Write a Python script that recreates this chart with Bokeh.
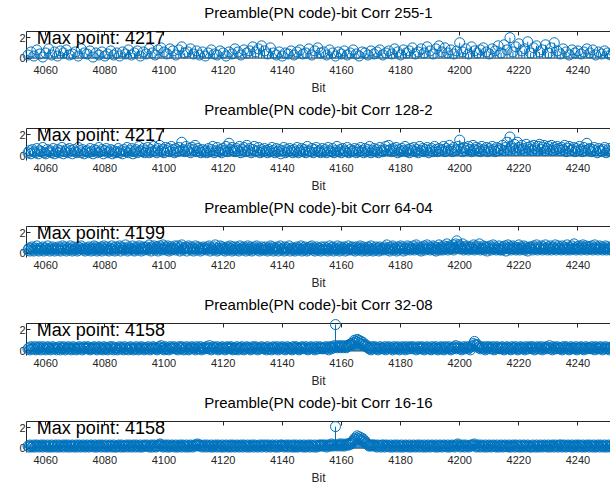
from bokeh.plotting import figure
from bokeh.models import ColumnDataSource, FixedTicker, LinearAxis, Span, Range1d
from bokeh.layouts import column
from bokeh.core.properties import value
from bokeh.embed import file_html
from bokeh.resources import INLINE

TITLES = [
    "Preamble(PN code)-bit Corr 255-1",
    "Preamble(PN code)-bit Corr 128-2",
    "Preamble(PN code)-bit Corr 64-04",
    "Preamble(PN code)-bit Corr 32-08",
    "Preamble(PN code)-bit Corr 16-16",
]
MAX_POINTS = [4217, 4217, 4199, 4158, 4158]
SAMPLES_PER_BIT = [1, 2, 3, 3, 3]
BIT_START = 4054
X_TICKS = [4060, 4080, 4100, 4120, 4140, 4160, 4180, 4200, 4220, 4240]
Y_TICKS = [0, 2]
X_LABEL = "Bit"

CORR_255_1 = [
    0.3,0.6,0.2,0.8,0.4,0.1,0.5,0.9,0.3,0.6,0.2,0.7,0.5,0.8,0.3,0.4,0.6,0.2,0.9,0.5,
    0.4,0.7,0.1,0.5,0.3,0.6,0.2,0.4,0.7,0.3,0.5,0.2,0.6,0.4,0.8,0.3,0.5,0.7,0.2,0.6,
    0.4,0.9,0.5,0.3,0.8,1.0,0.6,0.4,0.9,0.7,0.3,0.8,1.1,0.5,0.6,0.9,0.4,0.7,0.3,0.6,
    0.2,0.5,0.8,0.4,0.3,0.7,0.5,0.2,0.6,0.4,0.9,0.6,0.3,0.8,0.5,0.7,1.1,0.6,0.9,1.2,
    0.7,0.4,1.0,0.5,0.3,0.6,0.2,0.5,0.4,0.7,0.3,0.6,0.8,0.4,0.5,0.9,0.3,0.7,1.0,0.5,
    0.6,0.3,0.8,0.5,0.2,0.6,0.4,0.7,0.3,0.5,0.8,0.4,0.2,0.6,0.5,0.3,0.7,0.4,0.6,0.8,
    0.3,0.5,0.7,0.4,0.9,0.6,0.3,0.8,0.5,0.7,1.0,0.4,0.6,0.9,0.5,1.1,0.7,0.4,0.9,1.2,
    0.6,1.0,0.5,0.8,0.4,0.7,1.5,0.6,0.9,0.4,1.1,0.7,0.5,0.8,1.0,0.6,0.4,0.9,0.7,1.2,
    0.5,1.3,0.8,2.0,0.6,1.1,1.4,0.7,0.9,1.6,0.5,1.0,1.2,0.6,0.8,1.3,0.5,1.0,1.5,0.7,
    0.4,0.9,0.6,0.3,0.8,0.5,0.7,0.4,0.6,0.9,0.5,0.8,0.3,0.6,0.4,0.7,0.5,0.3,0.6,0.4,
]

CORR_128_2 = [
    0.3,0.5,0.2,0.6,0.4,0.3,0.7,0.2,0.5,0.4,0.8,0.3,0.2,0.6,0.4,0.5,0.3,0.7,0.2,0.4,
    0.6,0.3,0.5,0.8,0.2,0.4,0.6,0.3,0.7,0.5,0.2,0.6,0.4,0.3,0.8,0.5,0.3,0.6,0.2,0.4,
    0.5,0.3,0.7,0.4,0.2,0.6,0.5,0.3,0.8,0.4,0.6,0.2,0.5,0.7,0.3,0.4,0.6,0.2,0.5,0.3,
    0.4,0.7,0.3,0.5,0.2,0.6,0.4,0.8,0.3,0.5,0.7,0.2,0.4,0.6,0.3,0.9,0.5,0.4,0.7,0.3,
    0.5,0.8,0.3,0.6,0.4,0.9,0.5,0.3,0.7,1.0,0.4,0.6,0.3,0.8,0.5,0.7,0.4,0.9,0.6,0.3,
    0.7,0.4,0.8,0.5,1.3,0.6,0.4,0.9,0.5,0.7,0.3,0.8,0.6,1.0,0.4,0.7,0.5,0.3,0.6,0.4,
    0.5,0.3,0.7,0.4,0.6,0.9,0.3,0.5,0.8,0.4,0.6,0.3,0.7,0.5,0.9,0.4,1.2,0.6,0.8,0.5,
    0.4,0.7,0.5,0.9,0.3,0.6,0.8,0.4,1.0,0.5,0.7,0.3,0.6,0.9,0.4,0.5,0.8,0.3,0.6,0.4,
    0.7,0.5,0.3,0.6,0.4,0.8,0.5,0.3,0.7,0.4,0.6,0.2,0.5,0.8,0.3,0.6,0.4,0.7,0.5,0.3,
    0.6,0.4,0.8,0.3,0.5,0.7,0.4,0.6,0.3,0.9,0.5,0.4,0.7,0.3,0.6,0.8,0.4,0.5,0.3,0.7,
    0.4,0.6,0.3,0.8,0.5,0.4,0.7,0.3,0.5,0.9,0.4,0.6,0.3,0.7,0.5,0.4,0.8,0.3,0.6,0.4,
    0.5,0.7,0.3,0.6,0.4,0.8,0.5,0.3,0.7,0.4,0.6,0.9,0.3,0.5,0.7,0.4,0.6,0.3,0.8,0.5,
    0.4,0.6,0.9,0.5,1.0,0.6,0.4,0.7,0.5,0.8,0.3,0.6,0.4,0.7,0.5,0.9,0.4,0.6,0.3,0.7,
    0.5,0.8,0.4,0.6,0.3,0.9,0.5,0.7,0.4,0.6,0.8,0.3,0.5,0.7,0.4,0.9,0.6,0.4,0.7,0.5,
    0.6,0.9,0.4,0.7,0.5,1.0,0.6,0.4,0.8,0.5,0.6,0.9,1.5,0.7,0.4,0.8,0.5,0.7,0.9,0.6,
    0.4,1.0,0.6,0.8,0.5,0.7,0.4,0.9,0.6,0.5,0.8,0.4,0.7,0.5,0.9,0.6,0.4,0.8,0.5,0.7,
    0.6,1.0,0.5,0.8,1.3,0.6,1.8,0.9,0.7,1.1,0.5,1.3,0.8,0.6,1.0,0.7,0.5,1.1,0.8,0.6,
    0.9,0.5,1.0,0.7,0.5,0.9,1.1,0.6,0.8,1.0,0.5,0.7,0.9,0.6,1.0,0.5,0.8,0.6,0.9,0.7,
    0.5,0.8,0.6,1.0,0.4,0.7,0.9,0.5,0.6,0.8,0.4,0.7,0.5,0.9,0.6,0.4,0.8,0.5,1.2,0.6,
    0.7,0.4,0.6,0.8,0.5,0.3,0.7,0.5,0.4,0.6,0.8,0.3,0.5,0.7,0.4,0.6,0.3,0.5,0.4,0.6,
]

CORR_64_04 = [
    0.3,0.5,0.2,0.4,0.6,0.3,0.2,0.5,0.4,0.7,0.3,0.2,0.5,0.4,0.3,0.6,0.2,0.4,0.5,0.3,0.7,0.4,0.2,0.5,0.3,0.6,0.4,0.2,0.5,0.3,
    0.4,0.6,0.3,0.2,0.5,0.7,0.4,0.3,0.6,0.2,0.4,0.5,0.3,0.7,0.4,0.2,0.6,0.3,0.5,0.4,0.2,0.6,0.3,0.5,0.7,0.4,0.3,0.5,0.2,0.4,
    0.5,0.3,0.6,0.4,0.2,0.5,0.3,0.7,0.4,0.6,0.2,0.5,0.3,0.4,0.6,0.2,0.5,0.7,0.3,0.4,0.6,0.3,0.2,0.5,0.4,0.7,0.3,0.5,0.2,0.6,
    0.3,0.5,0.4,0.7,0.2,0.6,0.4,0.3,0.5,0.8,0.4,0.2,0.6,0.3,0.5,0.4,0.7,0.3,0.2,0.5,0.6,0.4,0.3,0.7,0.5,0.2,0.4,0.6,0.3,0.5,
    0.6,0.4,0.3,0.8,0.5,0.2,0.6,0.4,0.7,0.3,0.5,0.6,0.2,0.4,0.7,0.5,0.3,0.8,0.4,0.6,0.3,0.5,0.7,0.2,0.4,0.6,0.3,0.5,0.4,0.7,
    0.3,0.5,0.7,0.4,0.2,0.6,0.8,0.3,0.5,0.4,0.6,0.2,0.5,0.7,0.4,0.3,0.6,0.5,0.2,0.4,0.7,0.3,0.5,0.6,0.4,0.2,0.5,0.3,0.6,0.4,
    0.5,0.3,0.6,0.4,0.7,0.2,0.5,0.4,0.3,0.6,0.8,0.4,0.2,0.5,0.3,0.7,0.4,0.6,0.3,0.5,0.2,0.4,0.6,0.3,0.5,0.7,0.4,0.2,0.6,0.3,
    0.4,0.6,0.3,0.5,0.2,0.7,0.4,0.5,0.3,0.6,0.4,0.2,0.5,0.7,0.3,0.4,0.6,0.2,0.5,0.3,0.6,0.4,0.7,0.3,0.5,0.2,0.4,0.6,0.3,0.5,
    0.3,0.6,0.4,0.2,0.5,0.3,0.7,0.4,0.6,0.2,0.5,0.3,0.4,0.6,0.2,0.5,0.7,0.3,0.4,0.5,0.2,0.6,0.3,0.5,0.4,0.7,0.2,0.4,0.5,0.3,
    0.5,0.2,0.4,0.6,0.3,0.5,0.4,0.7,0.2,0.5,0.3,0.6,0.4,0.2,0.5,0.3,0.6,0.4,0.7,0.3,0.5,0.2,0.4,0.6,0.3,0.5,0.4,0.2,0.6,0.3,
    0.4,0.6,0.3,0.5,0.2,0.4,0.7,0.3,0.5,0.6,0.2,0.4,0.5,0.3,0.7,0.4,0.2,0.6,0.3,0.5,0.4,0.6,0.2,0.5,0.3,0.7,0.4,0.3,0.5,0.6,
    0.3,0.5,0.2,0.6,0.4,0.3,0.5,0.7,0.4,0.2,0.6,0.3,0.5,0.4,0.2,0.6,0.5,0.3,0.7,0.4,0.2,0.5,0.3,0.6,0.4,0.5,0.2,0.6,0.3,0.4,
    0.5,0.3,0.6,0.4,0.8,0.3,0.5,0.2,0.6,0.4,0.7,0.3,0.5,0.4,0.2,0.6,0.3,0.5,0.7,0.4,0.6,0.2,0.4,0.5,0.3,0.7,0.4,0.6,0.3,0.5,
    0.4,0.7,0.3,0.5,0.8,0.4,0.6,0.3,0.5,0.2,0.6,0.4,0.7,0.3,0.5,0.8,0.4,0.6,0.3,0.5,0.4,0.7,0.3,0.6,0.2,0.5,0.4,0.8,0.3,0.6,
    0.5,0.3,0.7,0.4,0.6,0.9,0.3,0.5,0.7,0.4,0.6,0.8,0.3,0.5,0.9,1.2,0.6,0.8,0.4,0.7,0.5,0.9,0.3,0.6,0.4,0.7,0.5,0.3,0.6,0.4,
    0.6,0.4,0.8,0.3,0.5,0.7,0.4,0.6,0.9,0.3,0.5,0.4,0.7,0.3,0.6,0.5,0.2,0.6,0.4,0.7,0.3,0.5,0.8,0.4,0.6,0.3,0.5,0.4,0.7,0.3,
    0.5,0.3,0.6,0.4,0.7,0.2,0.5,0.8,0.4,0.6,0.3,0.5,0.7,0.4,0.6,0.3,0.5,0.4,0.8,0.3,0.6,0.4,0.5,0.7,0.3,0.6,0.4,0.2,0.5,0.6,
    0.4,0.6,0.3,0.7,0.5,0.4,0.8,0.3,0.6,0.4,0.5,0.7,0.3,0.6,0.4,0.8,0.5,0.3,0.6,0.4,0.7,0.3,0.5,0.6,0.4,0.8,0.3,0.5,0.7,0.4,
    0.5,0.3,0.7,0.4,0.6,0.5,0.3,0.8,0.4,0.6,0.3,0.5,0.7,0.4,0.9,0.5,0.3,0.6,0.4,0.7,0.5,0.3,0.6,0.8,0.4,0.5,0.7,0.3,0.6,0.4,
    0.6,0.4,0.7,0.3,0.5,0.8,0.4,0.6,0.3,0.5,0.7,0.4,0.6,0.3,0.5,0.4,0.7,0.3,0.6,0.4,0.5,0.3,0.6,0.4,0.7,0.3,0.5,0.4,0.6,0.3,
]

CORR_32_08 = [
    0.2,0.3,0.1,0.4,0.2,0.3,0.2,0.4,0.1,0.3,0.2,0.4,0.3,0.1,0.2,0.4,0.3,0.2,0.1,0.3,0.4,0.2,0.3,0.1,0.2,0.4,0.3,0.2,0.3,0.1,
    0.3,0.2,0.4,0.1,0.3,0.2,0.4,0.3,0.1,0.2,0.3,0.4,0.2,0.3,0.1,0.2,0.4,0.3,0.2,0.1,0.3,0.2,0.4,0.3,0.2,0.1,0.3,0.4,0.2,0.3,
    0.2,0.4,0.3,0.1,0.2,0.3,0.2,0.4,0.3,0.2,0.1,0.3,0.4,0.2,0.3,0.2,0.1,0.4,0.3,0.2,0.3,0.1,0.2,0.4,0.3,0.2,0.4,0.1,0.3,0.2,
    0.3,0.1,0.2,0.4,0.3,0.2,0.3,0.1,0.4,0.2,0.3,0.2,0.1,0.3,0.4,0.2,0.3,0.1,0.2,0.3,0.4,0.2,0.1,0.3,0.2,0.4,0.3,0.2,0.1,0.3,
    0.2,0.3,0.4,0.2,0.1,0.3,0.2,0.4,0.3,0.2,0.3,0.1,0.2,0.4,0.3,0.5,0.2,0.3,0.1,0.4,0.2,0.3,0.2,0.1,0.4,0.3,0.2,0.3,0.4,0.2,
    0.3,0.2,0.1,0.4,0.3,0.2,0.4,0.3,0.1,0.2,0.3,0.4,0.2,0.1,0.3,0.2,0.4,0.3,0.2,0.3,0.1,0.4,0.2,0.3,0.2,0.4,0.1,0.3,0.2,0.3,
    0.2,0.4,0.3,0.2,0.5,0.3,0.1,0.2,0.4,0.3,0.2,0.3,0.4,0.1,0.2,0.3,0.2,0.4,0.3,0.2,0.1,0.3,0.4,0.2,0.3,0.2,0.4,0.3,0.1,0.2,
    0.3,0.2,0.4,0.1,0.3,0.2,0.3,0.4,0.2,0.1,0.3,0.2,0.4,0.3,0.2,0.3,0.1,0.2,0.4,0.3,0.2,0.4,0.3,0.1,0.2,0.3,0.2,0.4,0.3,0.2,
    0.2,0.3,0.1,0.4,0.2,0.3,0.2,0.1,0.3,0.4,0.2,0.3,0.2,0.4,0.1,0.3,0.2,0.3,0.4,0.2,0.3,0.1,0.2,0.4,0.3,0.2,0.3,0.2,0.1,0.4,
    0.3,0.2,0.4,0.3,0.2,0.1,0.3,0.2,0.4,0.3,0.2,0.3,0.4,0.2,0.1,0.3,0.2,0.4,0.3,0.2,0.3,0.1,0.4,0.2,0.3,0.2,0.4,0.3,0.2,0.3,
    0.2,0.3,0.4,0.2,0.3,0.1,0.4,0.3,0.2,0.4,0.3,0.5,2.5,0.4,0.3,0.5,0.4,0.3,0.5,0.4,0.3,0.4,0.5,0.3,0.4,0.5,0.6,0.5,0.7,0.6,
    0.8,1.0,0.7,0.9,1.1,0.8,1.0,0.7,0.9,0.6,0.8,0.5,0.6,0.4,0.5,0.3,0.2,0.3,0.1,0.4,0.2,0.3,0.4,0.2,0.3,0.1,0.2,0.4,0.3,0.2,
    0.3,0.2,0.4,0.1,0.3,0.2,0.4,0.3,0.2,0.3,0.1,0.4,0.2,0.3,0.2,0.4,0.3,0.1,0.2,0.3,0.4,0.2,0.3,0.1,0.4,0.2,0.3,0.2,0.4,0.3,
    0.2,0.4,0.3,0.2,0.1,0.3,0.4,0.2,0.3,0.2,0.4,0.3,0.1,0.2,0.3,0.4,0.2,0.3,0.2,0.1,0.4,0.3,0.2,0.3,0.4,0.2,0.1,0.3,0.2,0.4,
    0.3,0.2,0.1,0.4,0.3,0.2,0.3,0.4,0.2,0.1,0.3,0.2,0.4,0.3,0.5,0.2,0.3,0.4,0.2,0.3,0.1,0.2,0.4,0.3,0.2,0.3,0.4,0.2,0.3,0.1,
    0.4,0.5,0.7,0.9,0.6,0.5,0.6,0.3,0.4,0.2,0.3,0.4,0.2,0.3,0.1,0.4,0.2,0.3,0.4,0.2,0.3,0.2,0.4,0.1,0.3,0.2,0.4,0.3,0.2,0.3,
    0.2,0.4,0.3,0.1,0.2,0.3,0.4,0.2,0.3,0.2,0.1,0.4,0.3,0.2,0.3,0.4,0.2,0.1,0.3,0.2,0.4,0.3,0.2,0.3,0.1,0.4,0.2,0.3,0.2,0.4,
    0.3,0.2,0.4,0.3,0.1,0.2,0.3,0.4,0.2,0.3,0.2,0.4,0.1,0.3,0.2,0.3,0.4,0.2,0.3,0.5,0.2,0.3,0.1,0.4,0.2,0.3,0.2,0.4,0.3,0.2,
    0.2,0.3,0.1,0.4,0.2,0.3,0.4,0.2,0.3,0.1,0.2,0.4,0.3,0.2,0.3,0.2,0.4,0.1,0.3,0.2,0.3,0.4,0.2,0.3,0.1,0.2,0.4,0.3,0.2,0.3,
    0.3,0.2,0.4,0.2,0.3,0.1,0.4,0.3,0.2,0.3,0.2,0.4,0.3,0.1,0.2,0.3,0.4,0.2,0.3,0.2,0.1,0.3,0.4,0.2,0.3,0.2,0.4,0.3,0.2,0.3,
]

CORR_16_16 = [
    0.2,0.1,0.3,0.2,0.1,0.2,0.3,0.1,0.2,0.3,0.2,0.1,0.2,0.3,0.2,0.1,0.3,0.2,0.2,0.1,0.3,0.2,0.1,0.2,0.3,0.1,0.2,0.2,0.3,0.1,
    0.2,0.3,0.1,0.2,0.2,0.3,0.1,0.2,0.3,0.2,0.1,0.3,0.2,0.1,0.2,0.3,0.2,0.1,0.2,0.3,0.1,0.2,0.3,0.2,0.1,0.2,0.3,0.2,0.1,0.2,
    0.3,0.2,0.1,0.2,0.3,0.2,0.2,0.1,0.3,0.2,0.1,0.2,0.3,0.2,0.1,0.3,0.2,0.2,0.1,0.3,0.2,0.1,0.2,0.3,0.2,0.1,0.2,0.3,0.1,0.2,
    0.1,0.2,0.3,0.2,0.1,0.3,0.2,0.1,0.2,0.2,0.3,0.1,0.2,0.3,0.2,0.1,0.2,0.3,0.2,0.1,0.3,0.2,0.2,0.1,0.3,0.2,0.1,0.2,0.3,0.2,
    0.2,0.3,0.2,0.1,0.2,0.3,0.1,0.2,0.3,0.2,0.1,0.2,0.3,0.2,0.4,0.3,0.2,0.1,0.2,0.3,0.2,0.1,0.3,0.2,0.1,0.2,0.3,0.2,0.2,0.1,
    0.3,0.2,0.1,0.2,0.3,0.2,0.1,0.3,0.2,0.2,0.1,0.3,0.2,0.1,0.2,0.3,0.2,0.1,0.2,0.3,0.3,0.2,0.4,0.3,0.2,0.3,0.2,0.1,0.2,0.3,
    0.2,0.1,0.3,0.2,0.2,0.1,0.3,0.2,0.1,0.2,0.3,0.2,0.1,0.3,0.2,0.2,0.1,0.3,0.2,0.1,0.2,0.3,0.2,0.1,0.2,0.3,0.1,0.2,0.3,0.2,
    0.1,0.2,0.3,0.2,0.1,0.2,0.3,0.2,0.1,0.3,0.2,0.2,0.1,0.3,0.2,0.1,0.2,0.3,0.2,0.1,0.3,0.2,0.2,0.1,0.2,0.3,0.2,0.1,0.3,0.2,
    0.2,0.3,0.1,0.2,0.3,0.2,0.1,0.2,0.3,0.2,0.2,0.1,0.3,0.2,0.1,0.2,0.3,0.2,0.3,0.2,0.1,0.2,0.3,0.2,0.1,0.3,0.2,0.2,0.1,0.3,
    0.2,0.1,0.3,0.2,0.1,0.2,0.3,0.2,0.2,0.1,0.3,0.2,0.1,0.2,0.3,0.2,0.1,0.3,0.2,0.2,0.1,0.3,0.2,0.1,0.2,0.3,0.2,0.3,0.2,0.3,
    0.2,0.3,0.2,0.1,0.3,0.2,0.3,0.2,0.4,0.3,0.2,0.3,2.1,0.3,0.2,0.3,0.4,0.3,0.2,0.4,0.3,0.2,0.3,0.4,0.3,0.4,0.3,0.5,0.4,0.6,
    0.7,0.9,0.8,1.0,1.2,0.9,1.1,0.8,1.0,0.7,0.9,0.6,0.7,0.5,0.4,0.3,0.2,0.3,0.2,0.3,0.3,0.2,0.3,0.2,0.1,0.3,0.2,0.2,0.1,0.3,
    0.2,0.3,0.1,0.2,0.3,0.2,0.2,0.1,0.3,0.2,0.1,0.2,0.3,0.2,0.1,0.3,0.2,0.2,0.1,0.3,0.2,0.1,0.2,0.3,0.2,0.2,0.1,0.3,0.2,0.1,
    0.2,0.3,0.2,0.1,0.2,0.3,0.2,0.1,0.3,0.2,0.2,0.1,0.3,0.2,0.1,0.2,0.3,0.2,0.1,0.2,0.3,0.2,0.2,0.1,0.3,0.2,0.1,0.2,0.3,0.2,
    0.1,0.2,0.3,0.2,0.2,0.1,0.3,0.2,0.1,0.2,0.3,0.2,0.2,0.1,0.3,0.2,0.4,0.3,0.2,0.1,0.2,0.3,0.2,0.1,0.3,0.2,0.2,0.1,0.2,0.3,
    0.2,0.3,0.3,0.4,0.2,0.1,0.2,0.3,0.2,0.1,0.3,0.2,0.2,0.1,0.3,0.2,0.1,0.2,0.3,0.2,0.1,0.2,0.3,0.2,0.2,0.1,0.3,0.2,0.1,0.2,
    0.3,0.2,0.1,0.2,0.3,0.2,0.2,0.1,0.3,0.2,0.1,0.2,0.3,0.2,0.1,0.3,0.2,0.2,0.1,0.3,0.2,0.1,0.2,0.3,0.2,0.1,0.2,0.3,0.2,0.1,
    0.2,0.1,0.3,0.2,0.2,0.1,0.3,0.2,0.1,0.2,0.3,0.2,0.1,0.2,0.3,0.2,0.2,0.1,0.3,0.2,0.1,0.2,0.3,0.2,0.1,0.3,0.2,0.2,0.1,0.3,
    0.2,0.3,0.1,0.2,0.3,0.2,0.1,0.2,0.3,0.2,0.2,0.1,0.3,0.2,0.1,0.2,0.3,0.2,0.1,0.3,0.2,0.2,0.1,0.3,0.2,0.1,0.2,0.3,0.2,0.1,
    0.3,0.2,0.2,0.1,0.3,0.2,0.1,0.2,0.3,0.2,0.1,0.3,0.2,0.2,0.1,0.3,0.2,0.1,0.2,0.3,0.2,0.1,0.2,0.3,0.2,0.2,0.1,0.3,0.2,0.2,
]

SERIES = [CORR_255_1, CORR_128_2, CORR_64_04, CORR_32_08, CORR_16_16]

# layout / style
X_LO, X_HI = 4053.5, 4251.0
Y_TOP = 2.6
TEXT_X, TEXT_Y = 4057.0, 2.0
FONT = "Liberation Sans"
BLUE = "#0072BD"
AX = "#262626"
HEIGHTS = [97, 98, 97, 98, 97]
FIG_W = 610
LEFT_B = 26
TOP_B = 29
VIS_H = 30
PAD = 5


def make(title, vals, spb, maxp, h):
    frame_h = VIS_H + PAD
    bottom_b = h - TOP_B - frame_h
    y_lo = -Y_TOP * PAD / VIS_H
    p = figure(width=FIG_W, height=h, output_backend="svg", toolbar_location=None,
               x_range=Range1d(X_LO, X_HI), y_range=Range1d(y_lo, Y_TOP),
               min_border_left=LEFT_B, min_border_right=0,
               min_border_top=TOP_B, min_border_bottom=bottom_b)
    p.grid.visible = False
    p.outline_line_color = None
    p.background_fill_color = "white"
    p.border_fill_color = "white"

    xb = p.below[0]
    xb.ticker = FixedTicker(ticks=X_TICKS)
    xb.axis_line_color = None
    xb.major_tick_in = 0
    xb.major_tick_out = 0
    xb.minor_tick_line_color = None
    xb.major_label_text_font = FONT
    xb.major_label_text_font_size = "11px"
    xb.major_label_text_color = AX
    xb.major_label_standoff = 3
    xb.axis_label = X_LABEL
    xb.axis_label_text_font = FONT
    xb.axis_label_text_font_size = "12px"
    xb.axis_label_text_font_style = "normal"
    xb.axis_label_text_color = AX
    xb.axis_label_standoff = 4

    yl = p.left[0]
    yl.ticker = FixedTicker(ticks=Y_TICKS)
    yl.axis_line_color = AX
    yl.major_tick_in = 4
    yl.major_tick_out = 0
    yl.major_tick_line_color = AX
    yl.minor_tick_line_color = None
    yl.major_label_text_font = FONT
    yl.major_label_text_font_size = "11px"
    yl.major_label_text_color = AX
    yl.major_label_standoff = 1

    # top box edge with inward ticks; its axis label carries the subplot title
    top = LinearAxis(ticker=FixedTicker(ticks=X_TICKS), major_tick_in=4, major_tick_out=0,
                     minor_tick_line_color=None, major_label_text_font_size="11px",
                     major_label_text_color=None, major_label_standoff=0,
                     axis_line_color=AX, major_tick_line_color=AX,
                     axis_label=title, axis_label_standoff=11,
                     axis_label_text_font=FONT, axis_label_text_font_size="15px",
                     axis_label_text_font_style="normal", axis_label_text_color="black")
    p.add_layout(top, "above")

    xs = [BIT_START + k / spb for k in range(len(vals))]
    src = ColumnDataSource(dict(x=xs, y=vals))
    p.segment(x0="x", y0=0, x1="x", y1="y", source=src, line_color=BLUE, line_width=1,
              level="overlay")
    p.scatter("x", "y", source=src, marker="circle", size=10, fill_color=None,
              line_color=BLUE, line_width=1, level="overlay")
    p.add_layout(Span(location=0, dimension="width", line_color=AX, line_width=1))

    p.text(x=[TEXT_X], y=[TEXT_Y], text=[f"Max point: {maxp}"], text_font=value(FONT),
           text_font_size="18px", text_baseline="middle", text_align="left",
           text_color="black", level="overlay")
    return p


figs = [make(t, v, s, m, h) for t, v, s, m, h in zip(TITLES, SERIES, SAMPLES_PER_BIT, MAX_POINTS, HEIGHTS)]
layout = column(*figs, spacing=0)
open("out.html", "w").write(file_html(layout, INLINE))
